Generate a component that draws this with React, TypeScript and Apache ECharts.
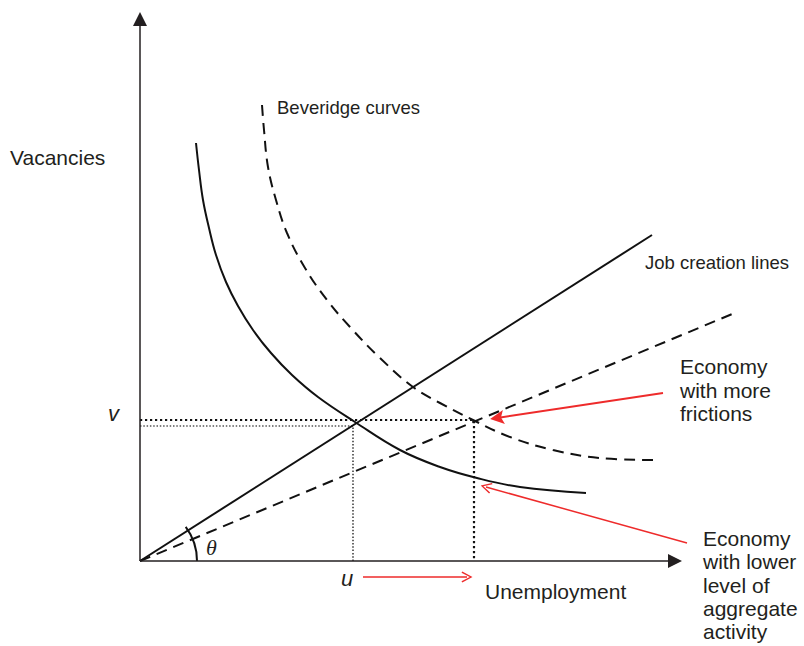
import React, { useEffect, useRef } from "react";
import * as echarts from "echarts";

// Coordinates: 1 unit = 1 px, origin at the axes' corner.
const xAxisLine = [[0, 0], [535, 0]];
const yAxisLine = [[0, 0], [0, 542]];

const jobCreationSolid = [[0, 0], [512, 326]];
const jobCreationDashed = [[0, 0], [597, 249]];

const beveridgeSolid = [
  [56, 418], [59, 391], [63, 361], [69, 333], [76, 306], [86, 279], [98, 255],
  [113, 231], [131, 208], [152, 186], [178, 164], [215, 139], [260, 111],
  [300, 94], [337, 83], [380, 74], [446, 68],
];
const beveridgeDashed = [
  [122, 456], [124, 431], [128, 394], [136, 361], [147, 328], [165, 293],
  [187, 261], [210, 234], [240, 203], [273, 174], [300, 158], [333, 141],
  [370, 124], [413, 111], [460, 103], [513, 101],
];

const equilibriumBase = [[0, 135], [213, 135], [213, 0]];
const equilibriumFrictions = [[0, 141], [334, 141], [334, 0]];

const arrowFrictions = [[523, 168], [357, 143]];
const arrowLowerActivity = [[547, 18], [346, 74]];
const arrowUnemployment = [[223, -16], [327, -16]];

const INK = "#231f20";
const LINE = "#111";
const RED = "#ee2b2b";
const SANS = "'Liberation Sans', Arial, Helvetica, sans-serif";

const TRI = "path://M5,0 L10,13 L0,13 Z";
const CHEVRON = "path://M5,0 L10,9 L8.9,9.7 L5,2.4 L1.1,9.7 L0,9 Z";
const DART = "path://M5,0 L10,14 L5,11 L0,14 Z";

export default function App() {
  const ref = useRef<HTMLDivElement>(null);
  useEffect(() => {
    if (!ref.current) return;
    const chart = echarts.init(ref.current, undefined, { renderer: "svg" });

    const lineSeries = (data: number[][], color: string, width: number, type: any, smooth: any = false) => ({
      type: "line",
      data,
      smooth,
      showSymbol: false,
      symbol: "none",
      silent: true,
      lineStyle: { color, width, type },
      z: 3,
    });

    const arrowSeries = (coords: number[][], color: string, width: number, symbol: string, size: number) => ({
      type: "lines",
      coordinateSystem: "cartesian2d",
      silent: true,
      symbol: ["none", symbol],
      symbolSize: size,
      symbolKeepAspect: true,
      lineStyle: { color, width, opacity: 1, curveness: 0 },
      itemStyle: { color },
      data: [{ coords }],
      z: 4,
    } as any);

    chart.setOption({
      animation: false,
      backgroundColor: "#fff",
      grid: { left: 0, right: 0, top: 0, bottom: 0 },
      xAxis: { type: "value", min: -140, max: 664, show: false },
      yAxis: { type: "value", min: -85, max: 561, show: false },
      series: [
        arrowSeries(xAxisLine, INK, 1.5, TRI, 14),
        arrowSeries(yAxisLine, INK, 1.5, TRI, 14),
        lineSeries(jobCreationSolid, LINE, 2, "solid"),
        lineSeries(jobCreationDashed, LINE, 2, [11, 7]),
        lineSeries(beveridgeSolid, LINE, 2, "solid", 0.4),
        lineSeries(beveridgeDashed, LINE, 2, [11, 7], 0.4),
        lineSeries(equilibriumBase, "#000", 1.2, [1.5, 1.8]),
        lineSeries(equilibriumFrictions, LINE, 2.2, [2.2, 2.8]),
        arrowSeries(arrowFrictions, RED, 2, DART, 14),
        arrowSeries(arrowLowerActivity, RED, 1.5, CHEVRON, 11),
        arrowSeries(arrowUnemployment, RED, 1.5, CHEVRON, 11),
      ],
      graphic: [
        {
          type: "arc",
          shape: { cx: 140, cy: 561, r: 57, startAngle: -0.64, endAngle: 0 },
          style: { stroke: LINE, lineWidth: 2, fill: "none" },
          silent: true,
        },
        { type: "text", x: 10, y: 157, style: { text: "Vacancies", fontSize: 21, fontFamily: SANS, fill: INK, verticalAlign: "middle" } },
        { type: "text", x: 108, y: 413, style: { text: "v", fontSize: 22, fontStyle: "italic", fontFamily: SANS, fill: INK, verticalAlign: "middle" } },
        { type: "text", x: 341, y: 578, style: { text: "u", fontSize: 22, fontStyle: "italic", fontFamily: SANS, fill: INK, verticalAlign: "middle" } },
        { type: "text", x: 206, y: 547, style: { text: "θ", fontSize: 22, fontStyle: "italic", fontFamily: "'Liberation Serif', 'DejaVu Serif', serif", fill: INK, verticalAlign: "middle" } },
        { type: "text", x: 485, y: 591, style: { text: "Unemployment", fontSize: 21, fontFamily: SANS, fill: INK, verticalAlign: "middle" } },
        { type: "text", x: 277, y: 107, style: { text: "Beveridge curves", fontSize: 18.5, fontFamily: SANS, fill: INK, verticalAlign: "middle" } },
        { type: "text", x: 645, y: 262, style: { text: "Job creation lines", fontSize: 18.5, fontFamily: SANS, fill: INK, verticalAlign: "middle" } },
        { type: "text", x: 680, y: 355, style: { text: "Economy\nwith more\nfrictions", fontSize: 21, lineHeight: 23.5, fontFamily: SANS, fill: INK, verticalAlign: "top" } },
        { type: "text", x: 703, y: 527, style: { text: "Economy\nwith lower\nlevel of\naggregate\nactivity", fontSize: 21, lineHeight: 23.3, fontFamily: SANS, fill: INK, verticalAlign: "top" } },
      ],
    });
    return () => chart.dispose();
  }, []);
  return (
    <div
      ref={ref}
      style={{ position: "fixed", left: 0, top: 0, width: 804, height: 646, background: "#fff" }}
    />
  );
}
